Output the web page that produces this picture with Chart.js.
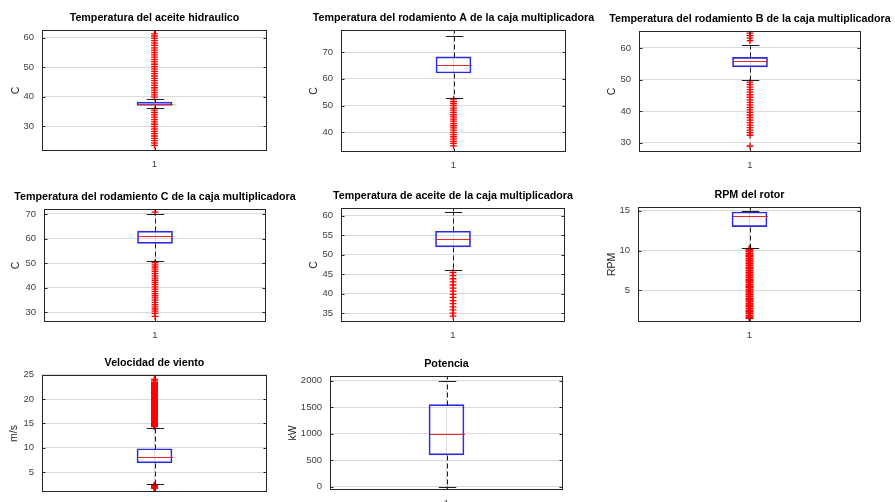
<!DOCTYPE html>
<html>
<head>
<meta charset="utf-8">
<title>Boxplots aerogenerador</title>
<script src="https://cdn.jsdelivr.net/npm/chart.js@4.4.1/dist/chart.umd.min.js"></script>
<style>
    body { margin: 0; background: #fff; }
    #grid { position: relative; width: 895px; height: 502px; overflow: hidden; }
    #grid canvas { position: absolute; }
</style>
</head>
<body>
<div id="grid"></div>
<script>
const panelTitles = [
    'Temperatura del aceite hidraulico',
    'Temperatura del rodamiento A de la caja multiplicadora',
    'Temperatura del rodamiento B de la caja multiplicadora',
    'Temperatura del rodamiento C de la caja multiplicadora',
    'Temperatura de aceite de la caja multiplicadora',
    'RPM del rotor',
    'Velocidad de viento',
    'Potencia'
];
const unitLabels = ['C', 'C', 'C', 'C', 'C', 'RPM', 'm/s', 'kW'];
const categories = ['1'];

// Box statistics per variable
const whiskerLow  = [36.1, 53.0, 50.0, 51.0, 46.0, 10.3, 2.5, 0];
const quartile1   = [37.0, 62.2, 54.0, 58.0, 52.0, 13.0, 6.9, 600];
const medians     = [37.5, 65.2, 56.0, 61.0, 54.0, 14.4, 8.0, 990];
const quartile3   = [38.1, 68.2, 57.0, 63.0, 56.0, 14.85, 9.8, 1550];
const whiskerHigh = [39.1, 76.0, 61.0, 70.0, 61.0, 14.95, 14.1, 2000];

// Axis limits and tick labels
const axisMin = [21.5, 32.7, 27.1, 26.0, 32.7, 1.0, 0.9, -62];
const axisMax = [62.7, 78.3, 65.4, 72.1, 62.0, 15.5, 25.0, 2094];
const ticksHidraulico = [30, 40, 50, 60];
const ticksRodA = [40, 50, 60, 70];
const ticksRodB = [30, 40, 50, 60];
const ticksRodC = [30, 40, 50, 60, 70];
const ticksAceiteCaja = [35, 40, 45, 50, 55, 60];
const ticksRpm = [5, 10, 15];
const ticksViento = [5, 10, 15, 20, 25];
const ticksPotencia = [0, 500, 1000, 1500, 2000];

// Outliers
const outHidraulico = [
    39.8, 40.6, 41.4, 42.2, 43.0, 43.8, 44.6, 45.4, 46.2, 47.0, 47.8, 48.6, 49.4, 50.2,
    51.0, 51.8, 52.6, 53.4, 54.2, 55.0, 55.8, 56.6, 57.4, 58.2, 59.0, 59.8, 60.6, 61.3,
    35.4, 34.6, 33.8, 33.0, 32.2, 31.4, 30.6, 29.8, 29.0, 28.2, 27.4, 26.6, 25.8, 25.0,
    24.2, 23.4
];
const outRodA = [
    52.4, 51.6, 50.8, 50.0, 49.1, 48.3, 47.5, 46.6, 45.8, 45.0, 44.2, 43.3, 42.5, 41.7,
    40.9, 40.0, 39.2, 38.4, 37.5, 36.7, 35.9, 35.0
];
const outRodB = [
    62.3, 63.1, 63.9, 64.7,
    49.2, 48.4, 47.6, 46.8, 46.0, 45.2, 44.4, 43.6, 42.8, 42.0, 41.2, 40.4, 39.6, 38.8,
    38.0, 37.2, 36.4, 35.6, 34.8, 34.0, 33.2, 32.4, 29.0
];
const outRodC = [
    70.8,
    50.2, 49.3, 48.4, 47.5, 46.6, 45.7, 44.8, 43.9, 43.0, 42.1, 41.2, 40.3, 39.4, 38.5,
    37.6, 36.7, 35.8, 34.9, 34.0, 33.1, 32.2, 31.3, 30.4, 29.5, 28.3
];
const outAceiteCaja = [
    45.4, 44.6, 43.8, 43.0, 42.2, 41.4, 40.6, 39.8, 39.0, 38.2, 37.4, 36.6, 35.8, 35.0, 34.2
];
const outRpm = [
    10.2, 9.9, 9.6, 9.3, 9.0, 8.7, 8.4, 8.1, 7.8, 7.5, 7.2, 6.9, 6.6, 6.3, 6.0, 5.7, 5.4,
    5.1, 4.8, 4.5, 4.2, 3.9, 3.6, 3.3, 3.0, 2.7, 2.4, 2.1, 1.8, 1.5
];
const outViento = [
    14.4, 14.6, 14.9, 15.1, 15.4, 15.6, 15.9, 16.1, 16.4, 16.6, 16.9, 17.1, 17.4, 17.6,
    17.9, 18.1, 18.4, 18.6, 18.9, 19.1, 19.4, 19.6, 19.9, 20.1, 20.4, 20.6, 20.9, 21.1,
    21.4, 21.6, 21.9, 22.1, 22.4, 22.6, 22.9, 23.1, 23.4, 24.0,
    2.3, 2.1, 1.9, 1.7
];
const outPotencia = [];

const tickLists = [ticksHidraulico, ticksRodA, ticksRodB, ticksRodC, ticksAceiteCaja, ticksRpm, ticksViento, ticksPotencia];
const outlierLists = [outHidraulico, outRodA, outRodB, outRodC, outAceiteCaja, outRpm, outViento, outPotencia];

// Plot area of each panel on the page (px)
const panelBoxes = [
    { left: 42,  top: 29,  width: 225, height: 122, labelGap: 26, cross: 3.4, crossWidth: 1.3 },
    { left: 341, top: 29,  width: 225, height: 123, labelGap: 27, cross: 3.4, crossWidth: 1.3 },
    { left: 639, top: 30,  width: 222, height: 122, labelGap: 27, cross: 3.4, crossWidth: 1.3 },
    { left: 44,  top: 208, width: 222, height: 114, labelGap: 28, cross: 3.4, crossWidth: 1.3 },
    { left: 341, top: 207, width: 224, height: 115, labelGap: 27, cross: 3.4, crossWidth: 1.3 },
    { left: 638, top: 206, width: 223, height: 116, labelGap: 26, cross: 4,   crossWidth: 2 },
    { left: 42,  top: 374, width: 225, height: 118, labelGap: 28, cross: 3.5, crossWidth: 2 },
    { left: 330, top: 375, width: 233, height: 115, labelGap: 37, cross: 3.4, crossWidth: 1.3 }
];

const SIDE = 48;      // room for tick labels and unit label on each side
const TITLE_H = 25;
const XAXIS_H = 22;
const BOX_W = 35;

const BOX_BLUE = '#2a2ae0';
const MEDIAN_RED = '#e8262a';
const OUTLIER_RED = '#ff0000';
const WHISKER = '#1e1e1e';
const GRID = '#dadada';

Chart.defaults.font.family = "'Liberation Sans', Arial, sans-serif";

document.addEventListener('DOMContentLoaded', function() {
    panelTitles.forEach((t, i) => buildPanel(i));
});

// Median, dashed whiskers, caps and the axes frame with inward ticks
const boxPlotPlugin = {
    id: 'boxPlot',
    afterDatasetsDraw(chart, args, opts) {
        const i = opts.index;
        const { ctx, chartArea } = chart;
        const x = chart.scales.x;
        const y = chart.scales.y;
        const cx = Math.round(x.getPixelForValue(0)) + 0.5;
        const half = BOX_W / 2;
        const py = v => Math.round(y.getPixelForValue(v)) + 0.5;

        ctx.save();
        ctx.lineWidth = 1;
        ctx.strokeStyle = WHISKER;
        ctx.setLineDash([5, 3]);
        ctx.beginPath();
        ctx.moveTo(cx, py(quartile3[i]));
        ctx.lineTo(cx, py(whiskerHigh[i]));
        ctx.moveTo(cx, py(quartile1[i]));
        ctx.lineTo(cx, py(whiskerLow[i]));
        ctx.stroke();
        ctx.setLineDash([]);

        ctx.beginPath();
        ctx.moveTo(cx - half / 2, py(whiskerHigh[i]));
        ctx.lineTo(cx + half / 2, py(whiskerHigh[i]));
        ctx.moveTo(cx - half / 2, py(whiskerLow[i]));
        ctx.lineTo(cx + half / 2, py(whiskerLow[i]));
        ctx.stroke();

        ctx.strokeStyle = MEDIAN_RED;
        ctx.beginPath();
        ctx.moveTo(cx - half, py(medians[i]));
        ctx.lineTo(cx + half, py(medians[i]));
        ctx.stroke();

        // frame
        const l = Math.round(chartArea.left) + 0.5;
        const r = Math.round(chartArea.right) - 0.5;
        const t = Math.round(chartArea.top) + 0.5;
        const b = Math.round(chartArea.bottom) - 0.5;
        ctx.strokeStyle = '#262626';
        ctx.strokeRect(l, t, r - l, b - t);
        ctx.beginPath();
        tickLists[i].forEach(v => {
            const yy = py(v);
            ctx.moveTo(l, yy); ctx.lineTo(l + 3, yy);
            ctx.moveTo(r, yy); ctx.lineTo(r - 3, yy);
        });
        ctx.moveTo(cx, b); ctx.lineTo(cx, b - 3);
        ctx.moveTo(cx, t); ctx.lineTo(cx, t + 3);
        ctx.stroke();
        ctx.restore();
    }
};

function buildPanel(i) {
    const box = panelBoxes[i];
    const canvas = document.createElement('canvas');
    const w = box.width + SIDE * 2;
    const h = TITLE_H + box.height + XAXIS_H;
    canvas.width = w;
    canvas.height = h;
    canvas.style.width = w + 'px';
    canvas.style.height = h + 'px';
    canvas.style.left = (box.left - SIDE) + 'px';
    canvas.style.top = (box.top - TITLE_H) + 'px';
    document.getElementById('grid').appendChild(canvas);

    const yTicks = tickLists[i];

    new Chart(canvas.getContext('2d'), {
        type: 'bar',
        data: {
            labels: categories,
            datasets: [
                {
                    type: 'bar',
                    data: [[quartile1[i], quartile3[i]]],
                    backgroundColor: 'rgba(0,0,0,0)',
                    borderColor: BOX_BLUE,
                    borderWidth: 1,
                    borderSkipped: false,
                    barThickness: BOX_W
                },
                {
                    type: 'line',
                    showLine: false,
                    data: outlierLists[i].map(v => ({ x: categories[0], y: v })),
                    pointStyle: 'cross',
                    pointRadius: box.cross,
                    pointHoverRadius: box.cross,
                    pointBorderColor: OUTLIER_RED,
                    pointBorderWidth: box.crossWidth,
                    pointHoverBorderWidth: box.crossWidth
                }
            ]
        },
        options: {
            responsive: false,
            animation: false,
            events: [],
            layout: { padding: 0 },
            plugins: {
                legend: { display: false },
                tooltip: { enabled: false },
                title: {
                    display: true,
                    text: panelTitles[i],
                    color: '#000',
                    font: { size: 10.7, weight: 'bold' },
                    padding: { top: 8, bottom: 5 }
                },
                boxPlot: { index: i }
            },
            scales: {
                x: {
                    grid: { color: GRID, offset: false, drawTicks: false },
                    border: { display: false },
                    ticks: { color: '#404040', font: { size: 9.5 }, padding: 8 },
                    afterFit: s => { s.height = XAXIS_H; }
                },
                y: {
                    min: axisMin[i],
                    max: axisMax[i],
                    grid: { color: GRID, drawTicks: false },
                    border: { display: false },
                    ticks: {
                        color: '#404040',
                        font: { size: 9.5 },
                        padding: 8,
                        callback: v => String(v)
                    },
                    afterBuildTicks: s => { s.ticks = yTicks.map(v => ({ value: v })); },
                    afterFit: s => { s.width = SIDE; },
                    title: {
                        display: true,
                        text: unitLabels[i],
                        color: '#262626',
                        font: { size: 10.5 },
                        padding: { top: SIDE - box.labelGap - 6, bottom: 0 }
                    }
                },
                yRight: {
                    position: 'right',
                    grid: { display: false },
                    border: { display: false },
                    ticks: { display: false },
                    afterFit: s => { s.width = SIDE; }
                }
            }
        },
        plugins: [boxPlotPlugin]
    });
}
</script>
</body>
</html>
